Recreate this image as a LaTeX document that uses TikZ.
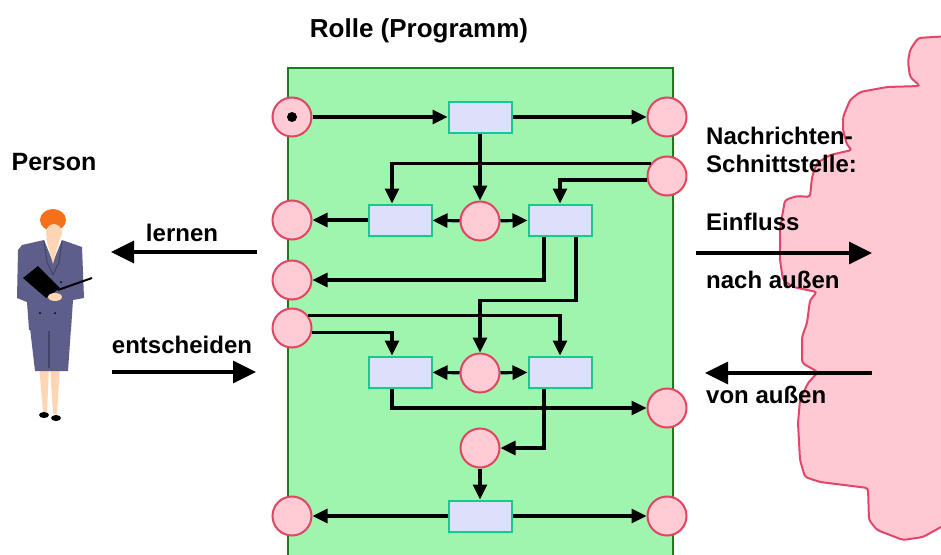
\documentclass[tikz,border=0pt]{standalone}
\usepackage{fontspec}
\setmainfont{Liberation Sans}
\usetikzlibrary{arrows.meta}

\definecolor{rollgreen}{HTML}{A0F5AE}
\definecolor{rollborder}{HTML}{1E7A1E}
\definecolor{placefill}{HTML}{FFCCD6}
\definecolor{placeborder}{HTML}{E2455F}
\definecolor{transfill}{HTML}{DEE0FB}
\definecolor{transborder}{HTML}{18C894}
\definecolor{cloudfill}{HTML}{FFC9D3}
\definecolor{cloudborder}{HTML}{E4466A}
\definecolor{suit}{HTML}{5E5E8A}
\definecolor{suitdark}{HTML}{42426A}
\definecolor{skin}{HTML}{FFD6B4}
\definecolor{hair}{HTML}{F2711A}

\tikzset{
  place/.style={circle, draw=placeborder, fill=placefill, line width=2pt, minimum size=39pt, inner sep=0pt},
  trans/.style={rectangle, draw=transborder, fill=transfill, line width=2pt, minimum width=63pt, minimum height=31pt, inner sep=0pt},
  arc/.style={line width=3.2pt, -{Triangle[length=15pt,width=14pt]}},
  bigarc/.style={line width=3.2pt, -{Triangle[length=23pt,width=22pt]}},
  lbl/.style={font=\fontsize{24}{28}\selectfont\bfseries, inner sep=0pt},
}

\begin{document}
\begin{tikzpicture}[x=1pt,y=-1pt]
    \useasboundingbox (0,0) rectangle (941,554);
    \clip (0,0) rectangle (941,554);

    % Umgebung
    \draw[draw=cloudborder, fill=cloudfill, line width=2pt, rounded corners=3pt]
      (918,38) -- (910,50) -- (908,62) -- (910,77) -- (920,86) -- (887,87) -- (860,92)
      -- (850,100) -- (843,117) -- (843,130) -- (847,145) -- (852,150) -- (830,155)
      -- (817,163) -- (812,177) -- (810,197) -- (797,196) -- (785,200) -- (782,217)
      -- (780,230) -- (780,260) -- (783,280) -- (793,287) -- (817,292) -- (810,300)
      -- (807,323) -- (802,337) -- (802,363) -- (818,372) -- (808,383) -- (800,400)
      -- (798,423) -- (800,460) -- (805,477) -- (820,482) -- (868,488) -- (869,520)
      -- (877,530) -- (903,540) -- (923,537) -- (950,522) -- (950,36) -- cycle;

    % Rolle
    \draw[rollborder, fill=rollgreen, line width=2pt] (288,68) rectangle (673,570);
    \node[lbl, font=\fontsize{26}{30}\selectfont\bfseries, anchor=base] (rolle) at (419,37) {Rolle (Programm)};

    \node[place] (p1) at (292,117) {};
    \node[place] (p2) at (667,117) {};
    \node[place] (p3) at (667,176) {};
    \node[place] (p4) at (292,220) {};
    \node[place] (p5) at (480,221) {};
    \node[place] (p6) at (292,280) {};
    \node[place] (p7) at (292,328) {};
    \node[place] (p8) at (480,373) {};
    \node[place] (p9) at (667,408) {};
    \node[place] (p10) at (480,448) {};
    \node[place] (p11) at (292,516) {};
    \node[place] (p12) at (667,516) {};
    \fill (p1) circle (5pt);

    \node[trans] (t1) at (480,117) {};
    \node[trans] (t2) at (400,220) {};
    \node[trans] (t3) at (560,220) {};
    \node[trans] (t4) at (400,372) {};
    \node[trans] (t5) at (560,372) {};
    \node[trans] (t6) at (480,516) {};

    \draw[arc] (p1) -- (t1);
    \draw[arc] (t1) -- (p2);
    \draw[arc] (t1) -- (p5);
    \draw[arc] (p3.143) -| ([xshift=-8pt]t2.north);
    \draw[arc] (p3.191) -| (t3.north);
    \draw[arc] (t2) -- (p4);
    \draw[arc] (p5) -- (t2);
    \draw[arc] (p5) -- (t3);
    \draw[arc] ([xshift=-16pt]t3.south) |- (p6);
    \draw[arc] ([xshift=16pt]t3.south) |- ([yshift=52pt]p8.north) -- (p8);
    \draw[arc] (p7.37) -| (t5.north);
    \draw[arc] (p7.-12) -| ([xshift=-8pt]t4.north);
    \draw[arc] (p8) -- (t4);
    \draw[arc] (p8) -- (t5);
    \draw[arc] ([xshift=-8pt]t4.south) |- (p9);
    \draw[arc] ([xshift=-16pt]t5.south) |- (p10);
    \draw[arc] (p10) -- (t6);
    \draw[arc] (t6) -- (p11);
    \draw[arc] (t6) -- (p12);

    % Person
    \node[lbl, font=\fontsize{25}{30}\selectfont\bfseries, anchor=base] (person) at (54,170) {Person};
    \fill[skin] (39,366) -- (49,366) -- (47,412) -- (43,412) -- cycle;
    \fill[skin] (50,366) -- (60,366) -- (57,414) -- (53,414) -- cycle;
    \fill (44,415) ellipse (5pt and 3pt);
    \fill (56,418) ellipse (5pt and 3pt);
    \fill[suit] (30,328) -- (71,328) -- (68,371) -- (35,371) -- cycle;
    \draw[suitdark, line width=1.5pt] (49,331) -- (49,368);
    \fill[suit] (22,245) -- (44,240) -- (53,262) -- (62,240) -- (82,247) -- (84,298)
      -- (73,300) -- (71,330) -- (29,330) -- (27,302) -- (17,298) -- (18,250) -- cycle;
    \draw[suitdark, line width=1pt] (44,241) -- (47,262) -- (53,275) (62,241) -- (59,262) -- (53,275);
    \fill[skin] (46,238) -- (60,238) -- (53,264) -- cycle;
    \fill[hair] (53,220) ellipse (13pt and 11pt);
    \fill[skin] (54,233) ellipse (8pt and 9pt);
    \fill (23,278) -- (38,266) -- (60,288) -- (46,298) -- cycle;
    \draw[line width=2pt] (58,290) -- (92,278);
    \fill[skin] (55,297) ellipse (7pt and 4pt);
    \fill (40,313) circle (1pt) (55,313) circle (1pt) (61,282) circle (1pt);

    % lernen / entscheiden
    \coordinate (lernenA) at (257,252);
    \coordinate (lernenB) at (111,252);
    \draw[bigarc] (lernenA) -- (lernenB);
    \node[lbl, anchor=base] (lernen) at (182,241) {lernen};
    \coordinate (entA) at (112,372);
    \coordinate (entB) at (256,372);
    \draw[bigarc] (entA) -- (entB);
    \node[lbl, anchor=base] (entscheiden) at (182,353) {entscheiden};

    % Schnittstelle
    \node[lbl, anchor=north west, align=left] (schnitt) at (706,127) {Nachrichten-\\Schnittstelle:};
    \node[lbl, anchor=base west] (einfluss) at (706,230) {Einfluss};
    \node[lbl, anchor=base west] (nach) at (706,288) {nach außen};
    \node[lbl, anchor=base west] (von) at (706,403) {von außen};
    \coordinate (ausA) at (696,253);
    \coordinate (ausB) at (872,253);
    \draw[bigarc] (ausA) -- (ausB);
    \coordinate (vonA) at (872,373);
    \coordinate (vonB) at (705,373);
    \draw[bigarc] (vonA) -- (vonB);
\end{tikzpicture}
\end{document}
